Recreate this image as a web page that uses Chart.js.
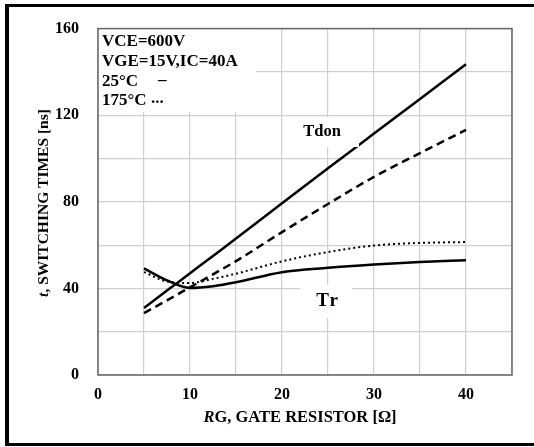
<!DOCTYPE html>
<html>
<head>
<meta charset="utf-8">
<script src="https://cdn.jsdelivr.net/npm/chart.js@4"></script>
<style>
  body { margin: 0; background: #fff; }
  #wrap { width: 534px; height: 447px; position: relative; }
</style>
</head>
<body>
<div id="wrap"><canvas id="chart" width="534" height="447"></canvas></div>
<script>
// gate resistor values (ohm) and switching times (ns)
const rg = [5, 7.5, 10, 12.5, 15, 20, 25, 30, 35, 40];
const tdon25 = [31, 39, 47, 55, 63, 79.3, 95.5, 111.5, 127.5, 143.5];
const tdon175 = [28.6, 34.5, 40.5, 46.5, 52.6, 66, 79, 91.5, 102.5, 113.2];
const tr25 = [49.2, 43.7, 40.2, 41, 42.8, 47.5, 49.5, 51, 52.2, 53];
const tr175 = [47.5, 43.2, 42.5, 44.4, 46.8, 52.5, 56.8, 59.8, 61, 61.4];

const xTicks = [0, 10, 20, 30, 40];
const yTicks = [0, 40, 80, 120, 160];
const noteLines = ["VCE=600V", "VGE=15V,IC=40A", "25°C", "175°C"];

const serif = "'Liberation Serif', 'Times New Roman', serif";

function pts(ys) {
    return rg.map((x, i) => ({ x: x, y: ys[i] }));
}

function lineSet(label, ys, dash, width) {
    return {
        label: label,
        data: pts(ys),
        borderColor: '#000',
        borderWidth: width,
        borderDash: dash,
        pointRadius: 0,
        fill: false,
        cubicInterpolationMode: 'monotone'
    };
}

// white label boxes, frame and axis titles
const decor = {
    id: 'decor',
    beforeDraw(chart) {
        const ctx = chart.ctx;
        ctx.save();
        ctx.fillStyle = '#fff';
        ctx.fillRect(0, 0, chart.width, chart.height);
        ctx.restore();
    },
    afterDatasetsDraw(chart) {
        const ctx = chart.ctx;
        const a = chart.chartArea;
        ctx.save();
        ctx.fillStyle = '#fff';
        ctx.fillRect(a.left + 1, 28, 157, 84);
        ctx.fillRect(292, 117, 67, 30);
        ctx.fillRect(300, 285, 52, 33);

        // plot frame
        ctx.strokeStyle = '#666';
        ctx.lineWidth = 1.5;
        ctx.strokeRect(a.left, a.top, a.right - a.left, a.bottom - a.top);

        // outer frame (no right side)
        ctx.strokeStyle = '#000';
        ctx.lineWidth = 3;
        ctx.beginPath();
        ctx.moveTo(534, 5.5);
        ctx.lineTo(7, 5.5);
        ctx.lineTo(7, 444.5);
        ctx.lineTo(534, 444.5);
        ctx.stroke();
        ctx.fillStyle = '#000';
        ctx.fillRect(5, 4, 4, 442);

        ctx.textBaseline = 'middle';
        ctx.textAlign = 'left';
        ctx.font = 'bold 17px ' + serif;
        const ys = [42, 62, 82, 101];
        noteLines.forEach((t, i) => ctx.fillText(t, 102, ys[i]));
        ctx.fillText('–', 158, 81);
        ctx.fillText('...', 151, 99);

        ctx.textAlign = 'center';
        ctx.font = 'bold 16.5px ' + serif;
        ctx.fillText('Tdon', 322, 132);
        ctx.font = 'bold 19px ' + serif;
        ctx.letterSpacing = '2px';
        ctx.fillText('Tr', 328, 301);
        ctx.letterSpacing = '0px';

        // x title with italic R
        ctx.textAlign = 'left';
        const p1 = 'R', p2 = 'G, GATE RESISTOR [Ω]';
        ctx.font = 'italic bold 16.5px ' + serif;
        const w1 = ctx.measureText(p1).width;
        ctx.font = 'bold 16.5px ' + serif;
        const w2 = ctx.measureText(p2).width;
        const x0 = 300 - (w1 + w2) / 2;
        ctx.font = 'italic bold 16.5px ' + serif;
        ctx.fillText(p1, x0, 418);
        ctx.font = 'bold 16.5px ' + serif;
        ctx.fillText(p2, x0 + w1, 418);

        // y title with italic t
        ctx.translate(44, 203);
        ctx.rotate(-Math.PI / 2);
        const q1 = 't', q2 = ', SWITCHING TIMES [ns]';
        ctx.font = 'italic bold 15.5px ' + serif;
        const v1 = ctx.measureText(q1).width;
        ctx.font = 'bold 15.5px ' + serif;
        const v2 = ctx.measureText(q2).width;
        const y0 = -(v1 + v2) / 2;
        ctx.font = 'italic bold 15.5px ' + serif;
        ctx.fillText(q1, y0, 0);
        ctx.font = 'bold 15.5px ' + serif;
        ctx.fillText(q2, y0 + v1, 0);
        ctx.restore();
    }
};

new Chart(document.getElementById('chart'), {
    type: 'line',
    data: {
        datasets: [
            lineSet('Tdon 25°C', tdon25, [], 2.5),
            lineSet('Tdon 175°C', tdon175, [8, 5], 2.5),
            lineSet('Tr 25°C', tr25, [], 2.5),
            lineSet('Tr 175°C', tr175, [2, 3], 2)
        ]
    },
    options: {
        responsive: false,
        animation: false,
        layout: { padding: { left: 0, top: 23, right: 22, bottom: 0 } },
        plugins: { legend: { display: false }, tooltip: { enabled: false } },
        scales: {
            x: {
                type: 'linear',
                min: 0,
                max: 45,
                afterFit(s) { s.height = 72; },
                border: { display: false },
                grid: { color: '#cfcfcf', lineWidth: 1.2, drawTicks: false },
                ticks: {
                    stepSize: 5,
                    padding: 10,
                    color: '#000',
                    font: { family: serif, size: 16, weight: 'bold' },
                    callback: v => xTicks.includes(v) ? String(v) : ''
                }
            },
            y: {
                min: 0,
                max: 160,
                afterFit(s) { s.width = 98; },
                border: { display: false },
                grid: { color: '#cfcfcf', lineWidth: 1.2, drawTicks: false },
                ticks: {
                    stepSize: 20,
                    padding: 19,
                    color: '#000',
                    font: { family: serif, size: 16, weight: 'bold' },
                    callback: v => yTicks.includes(v) ? String(v) : ''
                }
            }
        }
    },
    plugins: [decor]
});
</script>
</body>
</html>
